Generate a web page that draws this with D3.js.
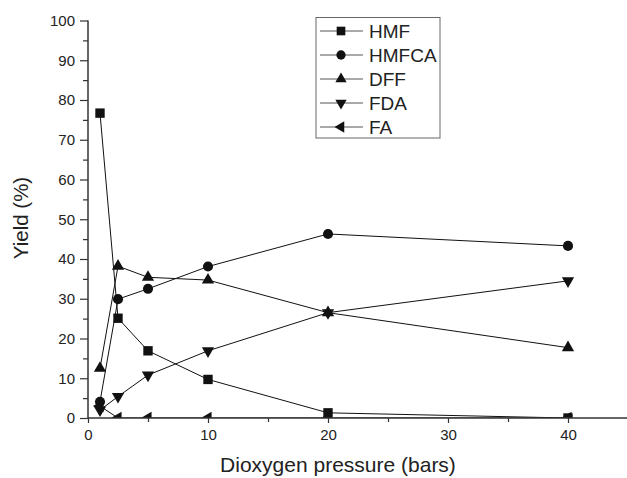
<!DOCTYPE html>
<meta charset="utf-8">
<style>
  body { margin: 0; background: #fff; }
  text { font-family: "Liberation Sans", Arial, sans-serif; fill: #222; }
</style>
<script src="https://d3js.org/d3.v7.min.js"></script>
<body>
<svg id="chart" width="627" height="478"></svg>
<script>
// values
var pressure = [1, 2.5, 5, 10, 20, 40];
var names = ["HMF", "HMFCA", "DFF", "FDA", "FA"];
var hmf   = [76.7, 25.1, 16.9, 9.7, 1.3, 0];
var hmfca = [4.1, 29.9, 32.5, 38.1, 46.3, 43.3];
var dff   = [12.5, 38.2, 35.4, 34.7, 26.5, 17.7];
var fda   = [2.0, 5.4, 10.8, 16.9, 26.5, 34.5];
var fa    = [3.0, 0, 0, 0, 0, 0];
var xTicks = [0, 10, 20, 30, 40];
var yTicks = [0, 10, 20, 30, 40, 50, 60, 70, 80, 90, 100];

var series = [hmf, hmfca, dff, fda, fa];
// marker shape and rotation per series
var shapes = [
  {t: d3.symbolSquare, size: 88, rot: 0},
  {t: d3.symbolCircle, size: 80, rot: 0},
  {t: d3.symbolTriangle, size: 65, rot: 0},
  {t: d3.symbolTriangle, size: 65, rot: 180},
  {t: d3.symbolTriangle, size: 65, rot: -90}
];

var svg = d3.select("#chart");
var x = d3.scaleLinear().domain([0, 45]).range([88, 628]);
var y = d3.scaleLinear().domain([0, 100]).range([418, 20.5]);

svg.append("clipPath").attr("id", "plot")
  .append("rect").attr("x", 88).attr("y", 0).attr("width", 540).attr("height", 418);

var g = svg.append("g").attr("clip-path", "url(#plot)");

var line = d3.line().x((d, i) => x(pressure[i])).y(d => y(d));

series.forEach(function(s, k) {
  g.append("path").datum(s)
    .attr("d", line)
    .attr("fill", "none")
    .attr("stroke", "#111")
    .attr("stroke-width", 1);
});

series.forEach(function(s, k) {
  var sh = shapes[k];
  var sym = d3.symbol().type(sh.t).size(sh.size);
  g.selectAll(".m" + k).data(s).enter().append("path")
    .attr("d", sym)
    .attr("fill", "#111")
    .attr("transform", (d, i) => "translate(" + x(pressure[i]) + "," + y(d) + ") rotate(" + sh.rot + ")");
});

// axes
var xAxis = svg.append("g").attr("transform", "translate(0,418)")
  .call(d3.axisBottom(x).tickValues(xTicks).tickSize(5).tickPadding(6).tickFormat(d3.format("d")));
xAxis.select(".domain").attr("d", "M88,0H627");
svg.append("g").attr("transform", "translate(0,418)")
  .call(d3.axisBottom(x).tickValues([5, 15, 25, 35]).tickSize(4).tickFormat(""))
  .select(".domain").remove();

var yAxis = svg.append("g").attr("transform", "translate(88,0)")
  .call(d3.axisLeft(y).tickValues(yTicks).tickSize(8).tickPadding(5).tickFormat(d3.format("d")));
yAxis.select(".domain").attr("d", "M0,418V20.5");
svg.append("g").attr("transform", "translate(88,0)")
  .call(d3.axisLeft(y).tickValues(d3.range(5, 100, 10)).tickSize(5).tickFormat(""))
  .select(".domain").remove();

svg.selectAll(".domain").attr("stroke", "#333").attr("stroke-width", 1.5);
svg.selectAll(".tick line").attr("stroke", "#333").attr("stroke-width", 1.2);
svg.selectAll(".tick text").style("font-size", "15px").attr("fill", "#222")
  .style("font-family", "'Liberation Sans', Arial, sans-serif");

// axis titles
svg.append("text").attr("x", 338).attr("y", 472).attr("text-anchor", "middle")
  .style("font-size", "21px").text("Dioxygen pressure (bars)");
svg.append("text").attr("transform", "translate(28,218) rotate(-90)").attr("text-anchor", "middle")
  .style("font-size", "20.5px").text("Yield (%)");

// legend
var lg = svg.append("g");
lg.append("rect").attr("x", 316).attr("y", 17.5).attr("width", 124).attr("height", 120.5)
  .attr("fill", "#fff").attr("stroke", "#666").attr("stroke-width", 1);
names.forEach(function(n, k) {
  var yy = 31 + k * 24;
  lg.append("line").attr("x1", 320).attr("x2", 363).attr("y1", yy).attr("y2", yy)
    .attr("stroke", "#555").attr("stroke-width", 1);
  var sh = shapes[k];
  lg.append("path").attr("d", d3.symbol().type(sh.t).size(sh.size * 0.85))
    .attr("fill", "#111")
    .attr("transform", "translate(341," + yy + ") rotate(" + sh.rot + ")");
  lg.append("text").attr("x", 369).attr("y", yy + 6.5)
    .style("font-size", "19px").text(n);
});
</script>
</body>
